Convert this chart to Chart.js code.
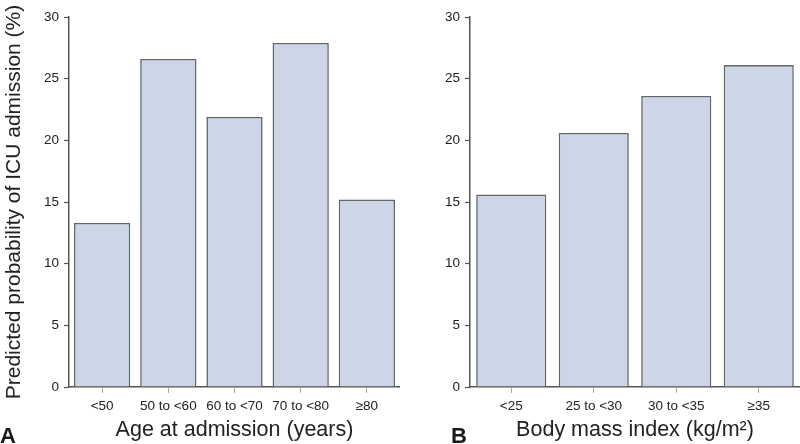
<!DOCTYPE html>
<html>
<head>
<meta charset="utf-8">
<script src="https://cdn.jsdelivr.net/npm/chart.js@4.4.1/dist/chart.umd.min.js"></script>
<style>
    html, body { margin: 0; padding: 0; background: #fff; }
    #wrap { position: relative; width: 800px; height: 444px; overflow: hidden; }
    .panel { position: absolute; top: 0; width: 400px; height: 444px; }
    .tag { position: absolute; font: bold 22px "Liberation Sans", Arial, sans-serif; color: #1a1a1a; }
</style>
</head>
<body>
<div id="wrap">
    <div class="panel" style="left:0"><canvas id="chartA" width="400" height="444"></canvas></div>
    <div class="panel" style="left:400px"><canvas id="chartB" width="400" height="444"></canvas></div>
    <div class="tag" style="left:0px; top:423px;">A</div>
    <div class="tag" style="left:451px; top:423px;">B</div>
</div>
<script>
const ageLabels = ['<50', '50 to <60', '60 to <70', '70 to <80', '\u226580'];
const ageValues = [13.3, 26.6, 21.9, 27.9, 15.2];
const bmiLabels = ['<25', '25 to <30', '30 to <35', '\u226535'];
const bmiValues = [15.6, 20.6, 23.6, 26.1];
const yTicks = [0, 5, 10, 15, 20, 25, 30];

const font = '"Liberation Sans", Arial, sans-serif';
const textColor = '#222';
const axisColor = '#555';

function makeChart(id, labels, values, xTitle, yTitle, yWidth) {
    const ctx = document.getElementById(id).getContext('2d');
    return new Chart(ctx, {
        type: 'bar',
        data: {
            labels: labels,
            datasets: [{
                data: values,
                backgroundColor: '#ccd6e6',
                borderColor: '#62666c',
                borderWidth: 1.6,
                barPercentage: 0.85,
                categoryPercentage: 1.0
            }]
        },
        options: {
            responsive: false,
            animation: false,
            layout: { padding: { top: 17, right: 0, left: 0, bottom: 0 } },
            plugins: {
                legend: { display: false },
                tooltip: { enabled: false }
            },
            scales: {
                x: {
                    grid: {
                        offset: false,
                        drawOnChartArea: false,
                        tickLength: 6,
                        tickColor: '#aaa',
                        tickWidth: 1
                    },
                    border: { color: axisColor, width: 1.5 },
                    ticks: {
                        color: textColor,
                        font: { family: font, size: 13.5 },
                        padding: 5,
                        maxRotation: 0,
                        autoSkip: false
                    },
                    title: {
                        display: true,
                        text: xTitle,
                        color: textColor,
                        font: { family: font, size: 21.5 },
                        padding: { top: 0, bottom: 1 }
                    },
                    afterFit: function (scale) { scale.height = 57; }
                },
                y: {
                    min: 0,
                    max: 30,
                    afterBuildTicks: function (scale) {
                        scale.ticks = yTicks.map(v => ({ value: v }));
                    },
                    grid: {
                        drawOnChartArea: false,
                        tickLength: 5,
                        tickColor: axisColor,
                        tickWidth: 1.2
                    },
                    border: { color: axisColor, width: 1.5 },
                    ticks: {
                        color: textColor,
                        font: { family: font, size: 13.5 },
                        padding: 5
                    },
                    title: {
                        display: !!yTitle,
                        text: yTitle,
                        color: textColor,
                        font: { family: font, size: 21 },
                        padding: { top: 2, bottom: 0 }
                    },
                    afterFit: function (scale) { scale.width = yWidth; }
                }
            }
        }
    });
}

makeChart('chartA', ageLabels, ageValues, 'Age at admission (years)',
    'Predicted probability of ICU admission (%)', 69);
makeChart('chartB', bmiLabels, bmiValues, 'Body mass index (kg/m\u00b2)', '', 70);
</script>
</body>
</html>
